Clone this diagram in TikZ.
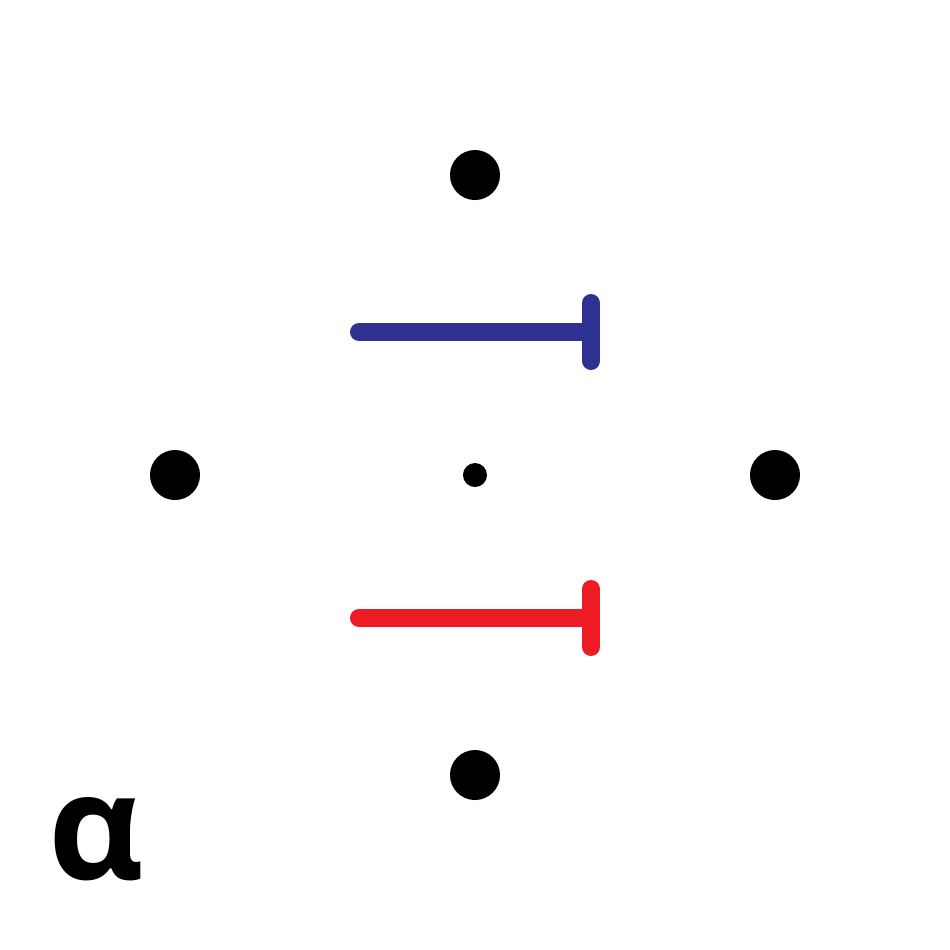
\documentclass[tikz,border=0pt]{standalone}
\usepackage{fontspec}
\newfontfamily\alphafont{Open Sans}
\usetikzlibrary{positioning,calc}

\definecolor{barblue}{HTML}{2E3192}
\definecolor{barred}{HTML}{ED1C24}

\begin{document}
\begin{tikzpicture}[
    x=0.01cm, y=-0.01cm,
    bigdot/.style={circle, fill=black, inner sep=0pt, minimum size=0.5cm},
    smalldot/.style={circle, fill=black, inner sep=0pt, minimum size=0.24cm},
    tbar/.style={line width=0.18cm, line cap=round}
]
\useasboundingbox (0,0) rectangle (950,950);

% Punkte
\node[bigdot]   (top)    at (475,175) {};
\node[bigdot]   (left)   at (175,475) {};
\node[bigdot]   (right)  at (775,475) {};
\node[bigdot]   (bottom) at (475,775) {};
\node[smalldot] (center) at (475,475) {};

% blauer Balken
\coordinate (blue_start) at (359,332);
\coordinate (blue_end)   at (591,332);
\draw[tbar, barblue] (blue_start) -- (blue_end);
\draw[tbar, barblue] ($(blue_end)+(0,-29)$) -- ($(blue_end)+(0,29)$);

% roter Balken
\coordinate (red_start) at (359,618);
\coordinate (red_end)   at (591,618);
\draw[tbar, barred] (red_start) -- (red_end);
\draw[tbar, barred] ($(red_end)+(0,-29)$) -- ($(red_end)+(0,29)$);

% Beschriftung
\node[font=\alphafont\bfseries\fontsize{42}{42}\selectfont, inner sep=0pt] (alpha) at (96,839) {α};

\end{tikzpicture}
\end{document}
